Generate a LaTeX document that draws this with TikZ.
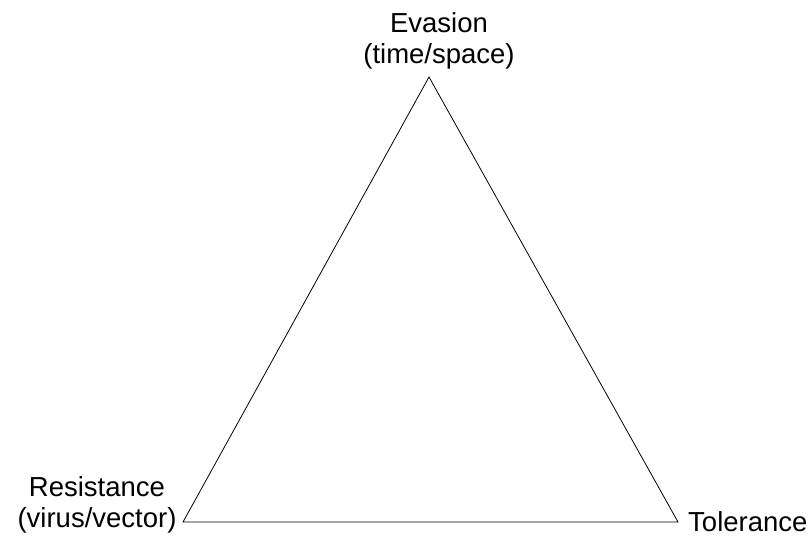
\documentclass[tikz,border=0pt]{standalone}
\usepackage{fontspec}
\setmainfont{Liberation Sans}
\begin{document}
\begin{tikzpicture}[x=1pt,y=-1pt,
  lbl/.style={inner sep=0pt,align=center,font=\fontsize{27.5pt}{30.5pt}\selectfont},
  edge/.style={draw=black,line width=0.8pt,line join=miter}]
\useasboundingbox (0,0) rectangle (811,536);
\coordinate (ev) at (429,77);
\coordinate (re) at (183,522);
\coordinate (to) at (678,522);
\draw[edge] (ev) -- (re) -- (to) -- cycle;
\node[lbl,anchor=south] (evl) at (439,69) {Evasion\\(time/space)};
\node[lbl,anchor=south] (rel) at (97,533) {Resistance\\(virus/vector)};
\node[lbl,anchor=base west] (tol) at (688,531) {Tolerance};
\end{tikzpicture}
\end{document}
